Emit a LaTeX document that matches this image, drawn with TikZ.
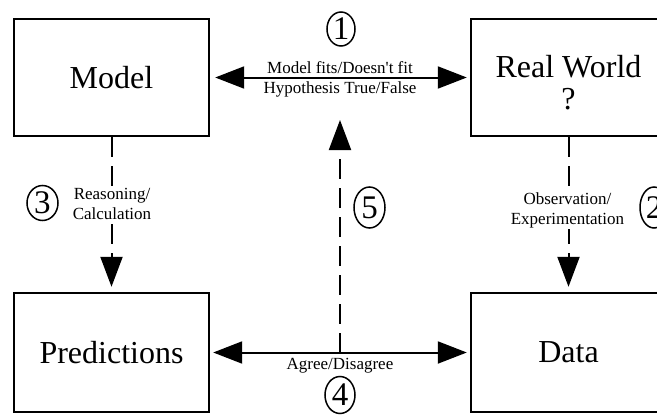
\documentclass[tikz,border=0pt]{standalone}
\usepackage{fontspec}
\setmainfont{Liberation Serif}
\newfontfamily\myserif{Liberation Serif}
\usetikzlibrary{arrows.meta,shapes.geometric}
\begin{document}
\begin{tikzpicture}[x=1pt,y=-1pt,
  box/.style={draw,line width=2.4pt,minimum width=195pt,minimum height=117pt,inner sep=0pt,align=center,font=\myserif\fontsize{32}{32}\selectfont},
  lbl/.style={inner sep=1pt,align=center,font=\myserif\fontsize{17}{20}\selectfont},
  num/.style={draw,ellipse,line width=1.5pt,inner sep=0pt,font=\myserif\fontsize{33}{33}\selectfont},
  dbl/.style={line width=2pt,{Triangle[length=29pt,width=22pt]}-{Triangle[length=29pt,width=22pt]}},
  dsh/.style={line width=2pt,dash pattern=on 20pt off 9pt,-{Triangle[length=30pt,width=22pt]}}]
\useasboundingbox (0,0) rectangle (657,415);
\clip (0,0) rectangle (657,415);
% boxes
\node[box] (model) at (111.5,77.5) {Model};
\node[box] (rw) at (568.5,77.5) {\rule{0pt}{32pt}Real World\\?};
\node[box,minimum height=119pt] (pred) at (111.5,352.5) {Predictions};
\node[box,minimum height=119pt] (data) at (568.5,352.5) {Data};
% horizontal arrows
\draw[dbl,shorten <=5pt,shorten >=3pt] (model.east) -- (rw.west);
\draw[dbl,shorten <=3pt,shorten >=3pt] (pred.east) -- (data.west);
% vertical dashed arrows
\draw[dsh,shorten >=5pt] (model.south) -- (pred.north);
\draw[dsh,shorten >=5pt] (rw.south) -- (data.north);
\coordinate (c4) at (340,352.5);
\coordinate (c5) at (340,120);
\draw[dsh] (c4) -- (c5);
% labels
\node[lbl,anchor=base] (l1a) at (340,74) {Model fits/Doesn't fit};
\node[lbl,anchor=base] (l1b) at (340,93) {Hypothesis True/False};
\node[lbl,fill=white] (l3) at (112,204) {Reasoning/\\Calculation};
\node[lbl,fill=white] (l2) at (567.5,210) {Observation/\\Experimentation};
\node[lbl,anchor=base] (l4) at (340,369) {Agree/Disagree};
% numbers
\node[num,minimum width=28pt,minimum height=34pt] (n1) at (341,29) {1};
\node[num,minimum width=28pt,minimum height=41pt] (n2) at (654,207.5) {2};
\node[num,minimum width=31pt,minimum height=35pt] (n3) at (42.5,203) {3};
\node[num,minimum width=30pt,minimum height=37pt] (n4) at (340,395) {4};
\node[num,minimum width=31pt,minimum height=41pt] (n5) at (369.5,207.5) {5};
\end{tikzpicture}
\end{document}
